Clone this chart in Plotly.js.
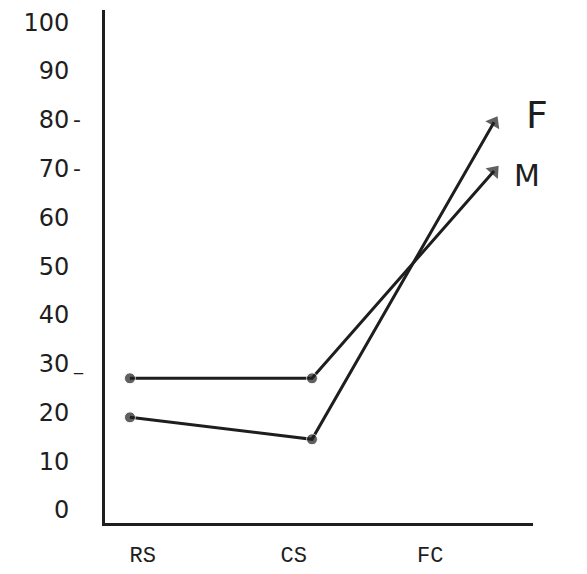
<!DOCTYPE html>
<html>
<head>
<meta charset="utf-8">
<script src="https://cdn.plot.ly/plotly-3.0.1.min.js"></script>
<style>html,body{margin:0;padding:0;background:#fff;}#chart{width:587px;height:574px;}</style>
</head>
<body>
<div id="chart"></div>
<script>
// Data
const categories = ["RS", "CS", "FC"];
const stageIndex = [0, 1, 2];
const seriesF = [19, 14.5, 79.5];
const seriesM = [27, 27, 69.5];
const yTickValues = [0, 10, 20, 30, 40, 50, 60, 70, 80, 90, 100];
const yTickLabels = ["0", "10", "20", "30", "40", "50", "60", "70", "80", "90", "100"];

// Label placement (hand-drawn offsets)
const xLabelPos = [0.07, 0.9, 1.65];

const ink = "#1e1e1e";

function lineTrace(name, ys) {
  return {
    type: "scatter", mode: "lines+markers", name: name,
    x: stageIndex, y: ys,
    line: {color: ink, width: 3},
    marker: {color: ink, symbol: "circle", size: [11, 11, 0]},
    hoverinfo: "skip"
  };
}
function arrowTrace(name, ys) {
  return {
    type: "scatter", mode: "lines+markers", name: name + " end",
    x: stageIndex, y: ys,
    line: {color: "rgba(0,0,0,0)", width: 0},
    marker: {color: ink, symbol: "triangle-up", size: [0, 0, 14], angleref: "previous"},
    hoverinfo: "skip"
  };
}

const data = [lineTrace("F", seriesF), lineTrace("M", seriesM), arrowTrace("F", seriesF), arrowTrace("M", seriesM)];

const layout = {
  width: 587, height: 574,
  margin: {l: 105, r: 54, t: 10, b: 51},
  paper_bgcolor: "#ffffff", plot_bgcolor: "#ffffff",
  showlegend: false,
  xaxis: {
    range: [-0.137, 2.214],
    showgrid: false, zeroline: false,
    showline: true, linecolor: ink, linewidth: 3,
    tickmode: "array", tickvals: xLabelPos, ticktext: categories,
    ticks: "outside", ticklen: 0, ticklabelstandoff: 10,
    tickfont: {family: "Liberation Mono, monospace", size: 22, color: ink}
  },
  yaxis: {
    range: [-2.66, 102.5],
    showgrid: false, zeroline: false,
    showline: true, linecolor: ink, linewidth: 3,
    tickmode: "array", tickvals: yTickValues, ticktext: yTickLabels,
    ticks: "outside", ticklen: 0, ticklabelstandoff: 28,
    tickfont: {family: "DejaVu Sans, sans-serif", size: 24, color: ink}
  },
  annotations: [
    {text: "F", x: 1.0, xref: "paper", xanchor: "center", xshift: 4, y: seriesF[2] + 1.5, yref: "y", yanchor: "middle",
     showarrow: false, font: {family: "DejaVu Sans, sans-serif", size: 38, color: ink}},
    {text: "M", x: 1.0, xref: "paper", xanchor: "center", xshift: -6, y: seriesM[2] - 1, yref: "y", yanchor: "middle",
     showarrow: false, font: {family: "DejaVu Sans, sans-serif", size: 30, color: ink}},
    {text: "-", x: -0.08, xref: "paper", xanchor: "left", y: 80, yref: "y", yanchor: "middle",
     showarrow: false, font: {family: "DejaVu Sans, sans-serif", size: 22, color: ink}},
    {text: "-", x: -0.08, xref: "paper", xanchor: "left", y: 70, yref: "y", yanchor: "middle",
     showarrow: false, font: {family: "DejaVu Sans, sans-serif", size: 22, color: ink}},
    {text: "_", x: -0.08, xref: "paper", xanchor: "left", y: 30, yref: "y", yanchor: "middle",
     showarrow: false, font: {family: "DejaVu Sans, sans-serif", size: 18, color: ink}}
  ]
};

Plotly.newPlot("chart", data, layout, {staticPlot: true, displayModeBar: false});
</script>
</body>
</html>
